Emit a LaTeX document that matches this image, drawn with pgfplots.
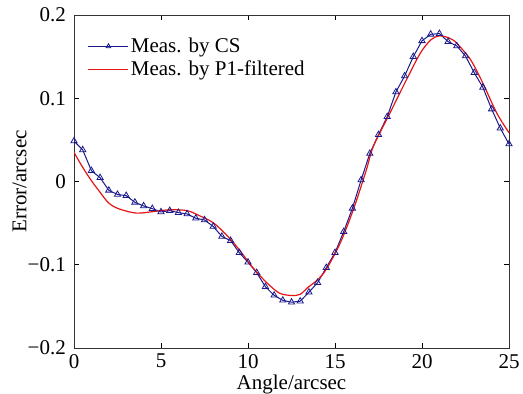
\documentclass[border=0pt]{standalone}
\usepackage{pgfplots}
\pgfplotsset{compat=1.18}
\usepackage{fontspec}
\setmainfont{Liberation Serif}
\definecolor{cs}{RGB}{25,25,140}
\definecolor{pf}{RGB}{230,20,20}
\newcommand{\lf}{\rmfamily\fontsize{21}{24}\selectfont}
\pgfplotsset{
  longmark/.style={legend image code/.code={\draw[##1, mark=none, line width=0.7pt] (0pt,0pt) -- (40pt,0pt); \draw[##1, only marks, mark size=2.6pt] plot coordinates {(20pt,0pt)};}},
  longline/.style={legend image code/.code={\draw[##1, line width=0.8pt] (0pt,0pt) -- (40pt,0pt);}},
}
\begin{document}
\fontsize{21}{24}\selectfont
\begin{tikzpicture}
\begin{axis}[
  scale only axis, width=435pt, height=333pt,
  xmin=0, xmax=25, ymin=-0.2, ymax=0.2,
  xtick={0,5,10,15,20,25}, xticklabels={0,5,10,15,20,25},
  ytick={-0.2,-0.1,0,0.1,0.2}, yticklabels={−0.2,−0.1,0,0.1,0.2},
  tick align=inside, major tick length=5pt,
  tick style={black, line width=0.6pt},
  axis line style={line width=0.8pt, black!80},
  xlabel={Angle/arcsec}, ylabel={Error/arcsec},
  xlabel style={yshift=8pt}, ylabel style={yshift=-13pt},
  xticklabel style={yshift=1pt}, yticklabel style={xshift=-1pt},
  legend style={draw=none, fill=none, at={(0.025,0.945)}, anchor=north west, font=\lf, nodes={font=\lf}, row sep=1pt},
  legend cell align=left,
]
\addplot[cs, line width=1pt, mark=triangle, mark size=3.6pt, mark options={solid, fill=none, line width=0.8pt}, longmark] coordinates {
(0,0.0486) (0.5,0.038) (1,0.013) (1.5,0.0046) (2,-0.0106) (2.5,-0.0156) (3,-0.017) (3.5,-0.025) (4,-0.0294) (4.5,-0.0326) (5,-0.0366) (5.5,-0.035) (6,-0.0374) (6.5,-0.039) (7,-0.0442) (7.5,-0.0462) (8,-0.054) (8.5,-0.066) (9,-0.071) (9.5,-0.0855) (10,-0.097) (10.5,-0.1095) (11,-0.1264) (11.5,-0.1367) (12,-0.1427) (12.5,-0.145) (13,-0.1438) (13.5,-0.133) (14,-0.1215) (14.5,-0.1035) (15,-0.0855) (15.5,-0.0603) (16,-0.0322) (16.5,0.0018) (17,0.0336) (17.5,0.0562) (18,0.0778) (18.5,0.1075) (19,0.1267) (19.5,0.150) (20,0.169) (20.5,0.1768) (21,0.1776) (21.5,0.168) (22,0.1628) (22.5,0.1507) (23,0.1307) (23.5,0.113) (24,0.087) (24.5,0.064) (25,0.045)
};
\addlegendentry{\lf Meas. by CS}
\addplot[pf, line width=1.2pt, smooth, longline] coordinates {
(0,0.035) (0.5,0.017) (1,0.001) (1.5,-0.013) (2,-0.026) (2.6,-0.033) (3.6,-0.038) (4.6,-0.036) (5.5,-0.034) (6.5,-0.035) (7.2,-0.041) (8,-0.0495) (8.8,-0.065) (9.5,-0.082) (10.3,-0.104) (11.1,-0.122) (11.8,-0.134) (12.5,-0.137) (13,-0.1355) (13.4,-0.128) (14,-0.118) (14.5,-0.1055) (15.3,-0.074) (16.05,-0.034) (16.8,0.0138) (17.2,0.042) (18.2,0.084) (19.1,0.122) (19.9,0.154) (20.5,0.170) (21,0.175) (21.6,0.172) (22,0.166) (22.8,0.146) (23.5,0.118) (24.3,0.082) (25,0.0586)
};
\addlegendentry{\lf Meas. by P1-filtered}
\end{axis}
\pgfresetboundingbox
\path[use as bounding box] ([xshift=-74pt,yshift=-46pt]current axis.south west) rectangle ([xshift=14pt,yshift=15pt]current axis.north east);
\end{tikzpicture}
\end{document}
